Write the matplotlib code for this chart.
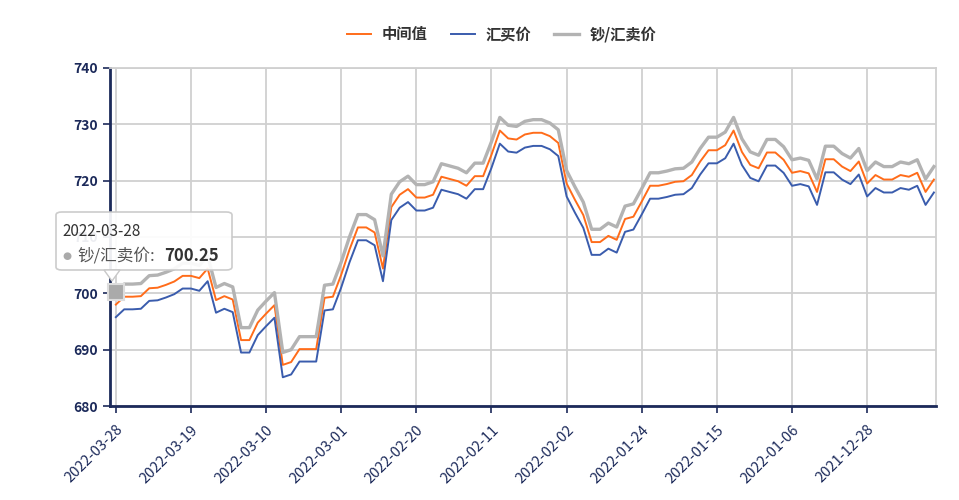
import datetime as dt

import matplotlib

matplotlib.use("Agg")
import matplotlib.pyplot as plt
from matplotlib.patches import FancyBboxPatch, Polygon

plt.rcParams["font.family"] = ["Noto Sans CJK SC", "DejaVu Sans"]

# daily categories, newest first (2022-03-28 back to 2021-12-20)
start = dt.date(2022, 3, 28)
dates = [(start - dt.timedelta(days=k)).isoformat() for k in range(99)]

# 中间值
mid = [
    698.0, 699.4, 699.4, 699.5, 700.9, 701.0, 701.5, 702.1, 703.1, 703.1,
    702.7, 704.4, 698.8, 699.5, 698.9, 691.7, 691.7, 694.8, 696.4, 697.9,
    687.3, 687.8, 690.1, 690.1, 690.1, 699.2, 699.4, 703.3, 707.8, 711.7,
    711.7, 710.8, 704.4, 715.3, 717.5, 718.5, 717.0, 717.0, 717.5, 720.7,
    720.3, 719.9, 719.1, 720.8, 720.8, 724.6, 728.9, 727.5, 727.3, 728.2,
    728.5, 728.5, 727.9, 726.7, 719.5, 716.6, 713.9, 709.1, 709.1, 710.2,
    709.5, 713.2, 713.6, 716.3, 719.1, 719.1, 719.4, 719.8, 719.9, 721.0,
    723.4, 725.4, 725.4, 726.3, 728.9, 725.1, 722.8, 722.2, 725.0, 725.0,
    723.7, 721.4, 721.7, 721.3, 718.0, 723.8, 723.8, 722.5, 721.7, 723.4,
    719.5, 721.0, 720.2, 720.2, 721.0, 720.7, 721.4, 718.0, 720.2,
]

# 汇买价
buy = [
    695.77, 697.16, 697.16, 697.26, 698.66, 698.76, 699.26, 699.85, 700.85, 700.85,
    700.45, 702.15, 696.56, 697.26, 696.66, 689.49, 689.49, 692.58, 694.17, 695.67,
    685.10, 685.60, 687.89, 687.89, 687.89, 696.96, 697.16, 701.05, 705.54, 709.42,
    709.42, 708.53, 702.15, 713.01, 715.20, 716.20, 714.70, 714.70, 715.20, 718.39,
    717.99, 717.60, 716.80, 718.49, 718.49, 722.28, 726.57, 725.17, 724.97, 725.87,
    726.17, 726.17, 725.57, 724.37, 717.20, 714.31, 711.62, 706.83, 706.83, 707.93,
    707.23, 710.92, 711.32, 714.01, 716.80, 716.80, 717.10, 717.50, 717.60, 718.69,
    721.09, 723.08, 723.08, 723.98, 726.57, 722.78, 720.49, 719.89, 722.68, 722.68,
    721.38, 719.09, 719.39, 718.99, 715.70, 721.48, 721.48, 720.19, 719.39, 721.09,
    717.20, 718.69, 717.90, 717.90, 718.69, 718.39, 719.09, 715.70, 717.90,
]

# 钞/汇卖价
sell = [
    700.25, 701.64, 701.64, 701.74, 703.14, 703.24, 703.74, 704.35, 705.35, 705.35,
    704.95, 706.65, 701.04, 701.74, 701.14, 693.91, 693.91, 697.02, 698.63, 700.13,
    689.50, 690.00, 692.31, 692.31, 692.31, 701.44, 701.64, 705.55, 710.06, 713.98,
    713.98, 713.07, 706.65, 717.59, 719.80, 720.80, 719.30, 719.30, 719.80, 723.01,
    722.61, 722.20, 721.40, 723.11, 723.11, 726.92, 731.23, 729.83, 729.63, 730.53,
    730.83, 730.83, 730.23, 729.03, 721.80, 718.89, 716.18, 711.37, 711.37, 712.47,
    711.77, 715.48, 715.88, 718.59, 721.40, 721.40, 721.70, 722.10, 722.20, 723.31,
    725.71, 727.72, 727.72, 728.62, 731.23, 727.42, 725.11, 724.51, 727.32, 727.32,
    726.02, 723.71, 724.01, 723.61, 720.30, 726.12, 726.12, 724.81, 724.01, 725.71,
    721.80, 723.31, 722.50, 722.50, 723.31, 723.01, 723.71, 720.30, 722.50,
]

navy = "#1c2a5a"

fig = plt.figure(figsize=(9.59, 5.0), dpi=100)
ax = fig.add_axes([110 / 959, 94 / 500, 826 / 959, 338 / 500])

x = list(range(len(dates)))
ax.plot(x, mid, color="#ff6c1a", lw=1.4, label="中间值", zorder=3)
ax.plot(x, buy, color="#3a5cad", lw=1.4, label="汇买价", zorder=3)
ax.plot(x, sell, color="#b3b3b3", lw=2.4, label="钞/汇卖价", zorder=3)

# hovered point
ax.plot([0], [sell[0]], marker="s", ms=11, color="#aaaaaa", mec="#dddddd",
        mew=1.5, zorder=5, clip_on=False)

ax.set_xlim(-0.7, 98.25)
ax.set_ylim(680, 740)
ax.set_yticks(range(680, 741, 10))
ax.set_xticks(x[::9])
ax.set_xticklabels(dates[::9], rotation=45, ha="right", va="top",
                   rotation_mode="anchor", fontsize=10.5, color=navy)
ax.tick_params(axis="y", labelsize=10, colors=navy, length=5, width=1.2)
ax.tick_params(axis="x", length=5, width=1.2, colors=navy, pad=7)
for lab in ax.get_yticklabels():
    lab.set_fontweight("bold")

ax.grid(True, color="#d0d0d0", lw=1.3)
ax.set_axisbelow(True)
for side in ("top", "right"):
    ax.spines[side].set_color("#d0d0d0")
    ax.spines[side].set_linewidth(1.3)
for side in ("left", "bottom"):
    ax.spines[side].set_color(navy)
    ax.spines[side].set_linewidth(2)

fig.legend(loc="upper center", bbox_to_anchor=(0.523, 0.975), ncol=3,
           frameon=False, handlelength=1.6, columnspacing=1.5,
           handletextpad=0.7, labelcolor="#333333",
           prop={"weight": "bold", "size": 11})

# tooltip box
box = FancyBboxPatch((56 / 959, 1 - 270 / 500), 176 / 959, 58 / 500,
                     boxstyle="round,pad=0,rounding_size=0.006",
                     transform=fig.transFigure, facecolor="white", alpha=0.92,
                     edgecolor="#c8c8c8", lw=1.2, zorder=10)
fig.patches.append(box)
notch = Polygon([(104 / 959, 1 - 270 / 500), (120 / 959, 1 - 270 / 500),
                 (112 / 959, 1 - 281 / 500)], closed=True,
                transform=fig.transFigure, facecolor="white",
                edgecolor="#c8c8c8", lw=1.0, zorder=11)
fig.patches.append(notch)
fig.text(62 / 959, 1 - 232 / 500, "2022-03-28", fontsize=11, color="#333333",
         va="center", zorder=12)
fig.text(67 / 959, 1 - 256 / 500, "●", fontsize=7.5, color="#aaaaaa",
         va="center", ha="center", family=["DejaVu Sans"], zorder=12)
fig.text(77 / 959, 1 - 256 / 500, "钞/汇卖价:", fontsize=12, color="#555555",
         va="center", zorder=12)
fig.text(164 / 959, 1 - 256 / 500, "700.25", fontsize=12, color="#333333",
         va="center", fontweight="bold", zorder=12)

fig.savefig("out.png", dpi=100)
